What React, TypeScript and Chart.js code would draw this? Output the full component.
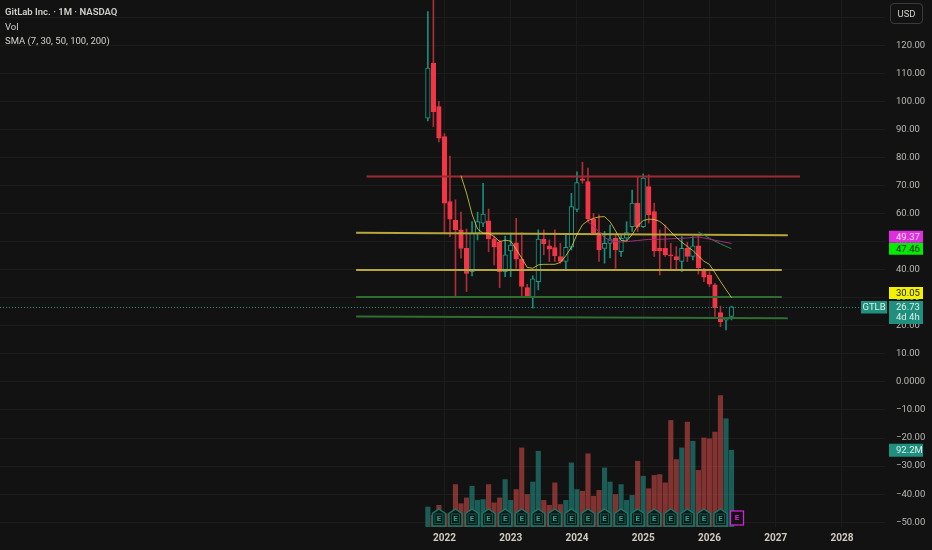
import React, { useEffect, useRef } from 'react';
import { Chart, registerables } from 'chart.js';
Chart.register(...registerables);

const FONT = 'Roboto, "Noto Sans", sans-serif';
const BG = '#121212';
const GRID = '#1c1c1c';
const TEXT = '#b9b9b4';
const UP = '#179c87';
const DOWN = '#f23645';
const TEAL = '#1f8f7e';

// monthly candles, index 0 = Oct 2021 ... index 55 = May 2026
const opens = [94, 113.6, 98.1, 87.4, 64.3, 57.7, 54.2, 47.6, 39.3, 53, 56.6, 57.4, 51, 49.8, 39.3, 46.7, 49.6, 43.7, 33.6, 30.4,
  35.7, 50.9, 48.5, 47.9, 44.7, 42.9, 48, 61.5, 72.4, 71.4, 58, 53.2, 47.6, 49.4, 51.2, 46.4, 51.2, 55.3, 63.7, 55.3,
  69.6, 60.7, 47.6, 47.6, 45.3, 44.7, 42.9, 47.6, 44.7, 48.5, 40.2, 38.1, 34.6, 24.7, 22, 23.3];
const highs = [132, 140, 100, 88.5, 80.5, 64.9, 60.5, 54.5, 57.1, 60.5, 70.8, 61.6, 52, 50.5, 52, 53, 58.3, 53.2, 34.8, 37.8,
  54.2, 54.2, 50.6, 54.2, 49.4, 52.4, 67.2, 74.9, 78.3, 76.2, 60.1, 59.5, 53.6, 55.9, 52.4, 52.6, 57.1, 68.4, 73.2, 74.1,
  73.8, 63.7, 54.2, 55.9, 49.4, 48.2, 51.8, 49.8, 51.8, 52, 40.5, 39.3, 35, 27, 23, 27];
const lows = [93, 91, 85.5, 53, 51.8, 30.4, 44.1, 32.2, 37.8, 50.6, 55.3, 46.4, 41.7, 33.6, 37.5, 37.5, 40.5, 30.4, 30.2, 26.3,
  32.8, 45.3, 42.9, 42.9, 42.3, 40.2, 47, 60.7, 70.8, 57, 52.5, 42.9, 42.3, 44.2, 40.5, 44.7, 50.5, 53.6, 53.6, 55,
  56.6, 44.7, 38.1, 44.7, 39.9, 39.9, 39.3, 42.9, 43.5, 38.4, 35.7, 34, 23.3, 19.7, 18.5, 22.1];
const closes = [111.8, 96.3, 86.9, 63.7, 58, 54.2, 47.6, 38.7, 53, 57.1, 59.8, 51, 48.2, 39.3, 45.3, 48.8, 43.7, 34, 30.4, 36.7,
  50.9, 49.2, 47.3, 44.9, 42.9, 48, 62.5, 71, 71.8, 58.2, 53, 47, 49.4, 51, 47, 51.2, 53.2, 63.7, 55.3, 72.6,
  59.5, 46.8, 46.8, 45.3, 44.9, 43.5, 47.6, 44.7, 48.5, 40.7, 37.3, 34.8, 26.5, 21.5, 22.5, 26.73];
// volume, millions
const volumes = [24, 14, 26, 16, 16, 51, 28, 35, 49, 32, 33, 51, 29, 35, 57, 32, 45, 95, 39, 54,
  91, 32, 26, 53, 27, 32, 77, 45, 43, 88, 37, 44, 71, 54, 39, 51, 32, 38, 79, 61,
  46, 62, 63, 53, 128, 81, 95, 126, 103, 68, 107, 106, 114, 158, 130, 92.2];

const sma7Start = 6;
const sma7 = [73.5, 67.3, 59.8, 54.5, 53, 53, 51.8, 50, 50.5, 50.2, 47.3, 44.1, 40.8, 40.5, 41.7, 41.9, 41.9, 41.9, 42.6, 45,
  48, 52.5, 56, 57.5, 58.3, 58.8, 58.9, 57.1, 53.8, 50.4, 50.2, 52.5, 55.6, 57.5, 58, 57.9, 57.2, 55.6, 53.5, 51.5,
  49.8, 48.3, 46.8, 44.9, 43, 41.9, 38.9, 35.8, 32.9, 30.05];
const sma30Start = 29;
const sma30 = [57, 55.5, 53.5, 51.5, 50.3, 50, 49.9, 50, 50.2, 50.4, 50.6, 50.8, 50.8, 50.8, 50.9, 51, 51.1, 51.2, 51.3, 51.5,
  51.7, 51.3, 50.9, 50.5, 50.1, 49.7, 49.37];
const sma50Start = 49;
const sma50 = [53.4, 52.3, 51.2, 50.2, 49.2, 48.3, 47.46];

const earningsMonths = [2, 5, 8, 11, 14, 17, 20, 23, 26, 29, 32, 35, 38, 41, 44, 47, 50, 53];
const nextEarnings = 56;

const yearTicks = [3, 15, 27, 39, 51, 63, 75];
const yearLabels = ['2022', '2023', '2024', '2025', '2026', '2027', '2028'];
const priceTicks = [-50, -40, -30, -20, -10, 0, 10, 20, 30, 40, 50, 60, 70, 80, 90, 100, 110, 120, 130];

// drawn levels: month index at each end, price at each end
const levelStarts = [-11.1, -13, -13, -13, -13];
const levelEnds = [67.4, 65.2, 64.1, 64.1, 65.2];
const levelStartPrices = [73.2, 53.2, 39.9, 30.3, 23.3];
const levelEndPrices = [73.2, 52.3, 39.9, 30.3, 22.7];
const levelColors = ['#a02a33', '#b7a63c', '#b7a63c', '#2f6e32', '#2f6e32'];

const isUp = (i: number) => closes[i] >= opens[i];

const fmtPrice = (v: number) => {
  if (v === 130) return '';
  if (v === 0) return '0.0000';
  return v < 0 ? '\u2212' + Math.abs(v).toFixed(2) : v.toFixed(2);
};

const overlayPlugin = {
  id: 'overlay',
  afterDatasetsDraw(chart: any) {
    const { ctx, chartArea: a, scales } = chart;
    const xs = scales.x;
    ctx.save();
    // last price dotted line
    const py = Math.round(scales.y.getPixelForValue(closes[closes.length - 1])) + 0.5;
    ctx.strokeStyle = TEAL;
    ctx.lineWidth = 1;
    ctx.setLineDash([1, 2]);
    ctx.beginPath();
    ctx.moveTo(a.left, py);
    ctx.lineTo(a.right - 24, py);
    ctx.stroke();
    ctx.setLineDash([]);

    // earnings flags
    const bottom = a.bottom - 1;
    const top = bottom - 17;
    ctx.textAlign = 'center';
    ctx.textBaseline = 'middle';
    earningsMonths.forEach((m) => {
      const cx = xs.getPixelForValue(m);
      ctx.beginPath();
      ctx.moveTo(cx, top);
      ctx.lineTo(cx + 6.5, top + 4.5);
      ctx.lineTo(cx + 6.5, bottom);
      ctx.lineTo(cx - 6.5, bottom);
      ctx.lineTo(cx - 6.5, top + 4.5);
      ctx.closePath();
      ctx.fillStyle = '#0d1917';
      ctx.fill();
      ctx.strokeStyle = '#1c7668';
      ctx.lineWidth = 1.5;
      ctx.stroke();
      ctx.strokeStyle = '#14574e';
      ctx.lineWidth = 1;
      ctx.strokeRect(cx - 4, top + 5, 8, 9.5);
      ctx.fillStyle = '#27a190';
      ctx.font = `bold 8px ${FONT}`;
      ctx.fillText('E', cx, top + 10);
    });
    const nx = xs.getPixelForValue(nextEarnings);
    ctx.fillStyle = BG;
    ctx.fillRect(nx - 6.5, bottom - 15, 13, 14);
    ctx.strokeStyle = '#e01ee0';
    ctx.lineWidth = 1.2;
    ctx.strokeRect(nx - 6.5, bottom - 15, 13, 14);
    ctx.fillStyle = '#e01ee0';
    ctx.fillText('E', nx, bottom - 8);
    ctx.restore();
  },
  afterDraw(chart: any) {
    const { ctx, chartArea: a, scales } = chart;
    ctx.save();
    const bx = a.right + 4;
    const bw = 34;
    const bh = 12;
    const tx = a.right + 11;
    ctx.font = `9.5px ${FONT}`;
    ctx.textBaseline = 'middle';
    ctx.textAlign = 'left';

    const last = closes[closes.length - 1];
    const py = Math.round(scales.y.getPixelForValue(last));
    const tealTop = py - 6;
    ctx.fillStyle = TEAL;
    ctx.fillRect(bx, tealTop, bw, 23);
    ctx.fillStyle = '#dcefea';
    ctx.fillText(last.toFixed(2), tx, tealTop + 6.5);
    ctx.fillText('4d 4h', tx, tealTop + 17);
    // symbol tag
    ctx.fillStyle = TEAL;
    ctx.fillRect(a.right - 24, tealTop, 26, 12.5);
    ctx.fillStyle = '#dcefea';
    ctx.textAlign = 'center';
    ctx.fillText('GTLB', a.right - 11, tealTop + 6.5);
    ctx.textAlign = 'left';

    // indicator value labels, stacked upward when they collide
    const tags = [
      { v: sma7[sma7.length - 1], fill: '#f2f200', ink: '#151515' },
      { v: sma50[sma50.length - 1], fill: '#00ec00', ink: '#151515' },
      { v: sma30[sma30.length - 1], fill: '#e02de0', ink: '#f6e6f6' },
    ].sort((p, q) => p.v - q.v);
    let limit = tealTop - 2;
    tags.forEach((t) => {
      let c = scales.y.getPixelForValue(t.v);
      if (c + bh / 2 > limit) c = limit - bh / 2;
      ctx.fillStyle = t.fill;
      ctx.fillRect(bx, c - bh / 2, bw, bh);
      ctx.fillStyle = t.ink;
      ctx.fillText(t.v.toFixed(2), tx, c + 0.5);
      limit = c - bh / 2;
    });

    // volume value
    const vol = volumes[volumes.length - 1];
    const vy = scales.yv.getPixelForValue(vol);
    ctx.fillStyle = TEAL;
    ctx.fillRect(bx, vy - 6.5, bw, 13);
    ctx.fillStyle = '#dcefea';
    ctx.fillText(vol.toFixed(1) + 'M', tx, vy + 0.5);
    ctx.restore();
  },
};

const App: React.FC = () => {
  const canvasRef = useRef<HTMLCanvasElement>(null);

  useEffect(() => {
    if (!canvasRef.current) return;
    const ctx = canvasRef.current.getContext('2d');
    if (!ctx) return;

    const levelSets = levelStarts.map((s, k) => ({
      type: 'line' as const,
      order: 2,
      data: [{ x: s, y: levelStartPrices[k] }, { x: levelEnds[k], y: levelEndPrices[k] }],
      borderColor: levelColors[k],
      borderWidth: 2,
      pointRadius: 0,
    }));

    const smaSet = (vals: number[], start: number, color: string) => ({
      type: 'line' as const,
      order: 1,
      data: vals.map((v, k) => ({ x: start + k, y: v })),
      borderColor: color,
      borderWidth: 1,
      pointRadius: 0,
      tension: 0,
    });

    const chart = new Chart(ctx, {
      type: 'bar',
      data: {
        datasets: [
          {
            type: 'bar',
            label: 'Vol',
            yAxisID: 'yv',
            order: 10,
            grouped: false,
            barThickness: 4.5,
            data: volumes.map((v, i) => ({ x: i, y: v })),
            backgroundColor: volumes.map((_, i) => (isUp(i) ? 'rgba(38,166,154,0.5)' : 'rgba(239,83,80,0.5)')),
          },
          ...levelSets,
          {
            type: 'bar',
            label: 'wicks',
            order: 6,
            grouped: false,
            barThickness: 1,
            data: lows.map((l, i) => ({ x: i, y: [l, highs[i]] })),
            backgroundColor: lows.map((_, i) => (isUp(i) ? '#178f7c' : '#b02c38')),
          },
          {
            type: 'bar',
            label: 'GTLB',
            order: 5,
            grouped: false,
            barThickness: 4.6,
            minBarLength: 1,
            borderSkipped: false,
            borderWidth: 1,
            data: opens.map((o, i) => ({ x: i, y: [o, closes[i]] })),
            backgroundColor: opens.map((_, i) => (isUp(i) ? BG : DOWN)),
            borderColor: opens.map((_, i) => (isUp(i) ? UP : DOWN)),
          },
          smaSet(sma7, sma7Start, 'rgba(236,220,70,0.75)'),
          smaSet(sma30, sma30Start, '#a0307e'),
          smaSet(sma50, sma50Start, '#2f8a4a'),
        ] as any,
      },
      options: {
        animation: false,
        responsive: true,
        maintainAspectRatio: false,
        events: [],
        layout: { padding: 0 },
        plugins: { legend: { display: false }, tooltip: { enabled: false } },
        scales: {
          x: {
            type: 'linear',
            min: -77.5,
            max: 82.8,
            offset: false,
            afterBuildTicks: (s: any) => {
              s.ticks = yearTicks.map((v) => ({ value: v }));
            },
            afterFit: (s: any) => {
              s.height = 23;
              s.paddingLeft = 0;
              s.paddingRight = 0;
            },
            ticks: {
              autoSkip: false,
              maxRotation: 0,
              padding: 5,
              color: '#cfcac0',
              font: { family: FONT, size: 10, weight: 'bold' },
              callback: (v: any) => {
                const k = yearTicks.indexOf(Number(v));
                return k >= 0 ? yearLabels[k] : '';
              },
            },
            grid: { color: GRID, drawTicks: false, offset: false },
            border: { display: false },
          },
          y: {
            position: 'right',
            min: -51.7,
            max: 136.1,
            afterBuildTicks: (s: any) => {
              s.ticks = priceTicks.map((v) => ({ value: v }));
            },
            afterFit: (s: any) => {
              s.width = 47;
              s.paddingTop = 0;
              s.paddingBottom = 0;
            },
            ticks: {
              autoSkip: false,
              padding: 11,
              color: TEXT,
              font: { family: FONT, size: 9.5 },
              callback: (v: any) => fmtPrice(Number(v)),
            },
            grid: { color: GRID, drawTicks: false },
            border: { display: false },
          },
          yv: {
            display: false,
            min: 0,
            max: 633,
          },
        },
      } as any,
      plugins: [overlayPlugin],
    });

    return () => {
      chart.destroy();
    };
  }, []);

  const line = (top: number, text: string, bold?: boolean) => (
    <div
      style={{
        position: 'absolute',
        left: 5,
        top,
        fontSize: 9.5,
        lineHeight: '12px',
        color: '#d1d1cc',
        fontWeight: bold ? 600 : 400,
        whiteSpace: 'nowrap',
      }}
    >
      {text}
    </div>
  );

  return (
    <div
      style={{
        position: 'fixed',
        left: 0,
        top: 0,
        width: 932,
        height: 550,
        background: BG,
        fontFamily: FONT,
        overflow: 'hidden',
      }}
    >
      <div style={{ position: 'absolute', left: 0, top: 0, width: 932, height: 550 }}>
        <canvas ref={canvasRef}></canvas>
      </div>
      {line(6, 'GitLab Inc. \u00b7 1M \u00b7 NASDAQ', true)}
      {line(21, 'Vol')}
      {line(35, 'SMA (7, 30, 50, 100, 200)')}
      <div
        style={{
          position: 'absolute',
          left: 890,
          top: 3,
          width: 31,
          height: 19,
          border: '1px solid #3a3a3a',
          borderRadius: 4,
          color: '#d1d1cc',
          fontSize: 9.5,
          lineHeight: '19px',
          textAlign: 'center',
        }}
      >
        USD
      </div>
    </div>
  );
};

export default App;
